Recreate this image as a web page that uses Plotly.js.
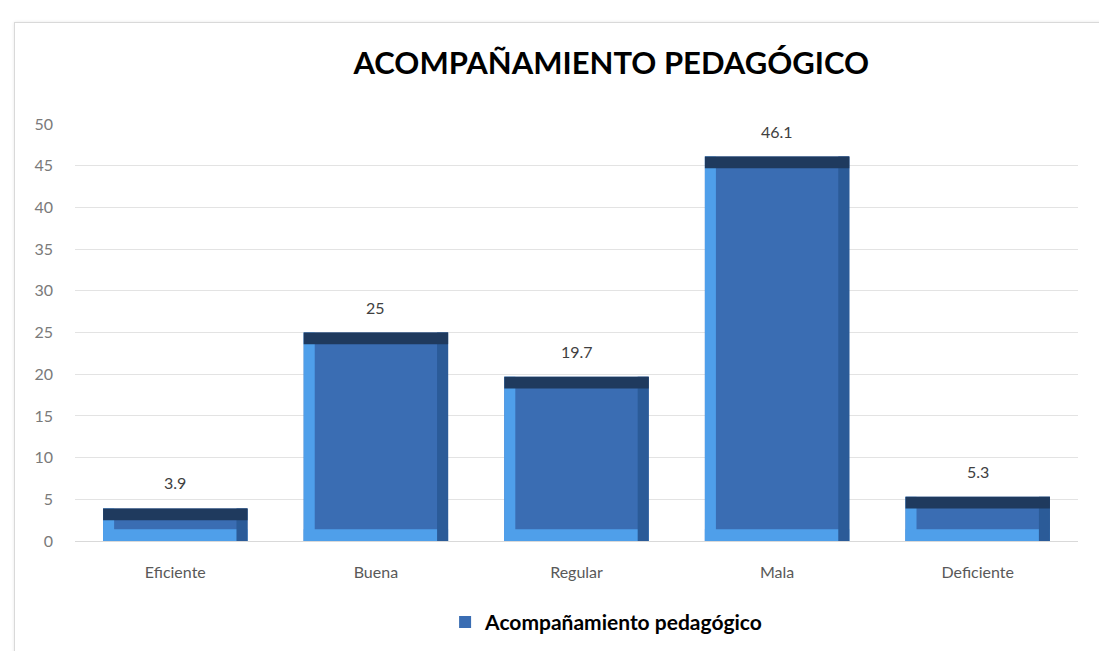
<!DOCTYPE html>
<html><head><meta charset="utf-8">
<script src="https://cdn.plot.ly/plotly-3.0.1.min.js"></script>
<style>
body{margin:0;background:#fff;}
#wrap{position:absolute;left:14px;top:22px;width:1090px;height:635px;border:1px solid #d9d9d9;box-shadow:0 0 3px #e8e8e8;}
#chart{width:1090px;height:635px;}
</style></head>
<body><div id="wrap"><div id="chart"></div></div>
<script>
const categories = ["Eficiente","Buena","Regular","Mala","Deficiente"];
const values = [3.9, 25, 19.7, 46.1, 5.3];
const labels = ["3.9","25","19.7","46.1","5.3"];
const seriesName = "Acompañamiento pedagógico";
const yTicks = [0,5,10,15,20,25,30,35,40,45,50];

const FONT = 'Lato, "Open Sans", sans-serif';
const band = 1.4;
const W = 0.72;
const S = 0.055;
const mainTrace = {
  type:'bar', x:categories, y:values, name:seriesName, width:W,
  marker:{color:'#3a6db3', line:{width:0}},
  hoverinfo:'x+y'
};
const leftTrace = {
  type:'bar', x:categories, y:values, width:S, offset:-W/2,
  showlegend:false, hoverinfo:'skip', marker:{color:'#4f9fea', line:{width:0}}
};
const bottomTrace = {
  type:'bar', x:categories, y:values.map(v=>Math.min(band,v)), width:W,
  showlegend:false, hoverinfo:'skip', marker:{color:'#4f9fea', line:{width:0}}
};
const rightTrace = {
  type:'bar', x:categories, y:values, width:S, offset:W/2-S,
  showlegend:false, hoverinfo:'skip', marker:{color:'#2b5b98', line:{width:0}}
};
const topTrace = {
  type:'bar', x:categories, y:values.map(v=>band), base:values.map(v=>v-band),
  width:W, showlegend:false, hoverinfo:'skip',
  marker:{color:'#1f3a5e', line:{width:0}}
};
const annotations = categories.map((c,i)=>({
  x:c, y:values[i], xref:'x', yref:'y', text:labels[i], showarrow:false,
  yanchor:'bottom', yshift:14, font:{family:FONT, size:16, color:'#404040'}
}));
const layout = {
  width:1090, height:635,
  margin:{l:60, r:27, t:101, b:117},
  paper_bgcolor:'#ffffff', plot_bgcolor:'#ffffff',
  barmode:'overlay',
  title:{text:'<b>ACOMPAÑAMIENTO PEDAGÓGICO</b>', x:0.547, xanchor:'center', y:0.937, yanchor:'middle',
    font:{family:FONT, size:31, color:'#000000'}},
  xaxis:{showline:true, linecolor:'#d9d9d9', linewidth:1, ticks:'', ticklabelstandoff:17,
    tickfont:{family:FONT, size:16, color:'#595959'}, fixedrange:true},
  yaxis:{range:[0,50], tickvals:yTicks, showgrid:true, gridcolor:'#e3e3e3', gridwidth:1, zeroline:false, ticks:'', showline:false,
    tickfont:{family:FONT, size:16, color:'#7a7a7a'}, ticklabelstandoff:21},
  annotations:annotations,
  showlegend:true,
  legend:{orientation:'h', x:0.53, xanchor:'center', y:-0.195, yanchor:'middle', traceorder:'normal',
    font:{family:FONT, size:21, color:'#000000', weight:'bold'}},
  bargap:0.28
};
Plotly.newPlot('chart',[mainTrace, leftTrace, bottomTrace, rightTrace, topTrace],layout,{displayModeBar:false, staticPlot:true});
</script></body></html>
